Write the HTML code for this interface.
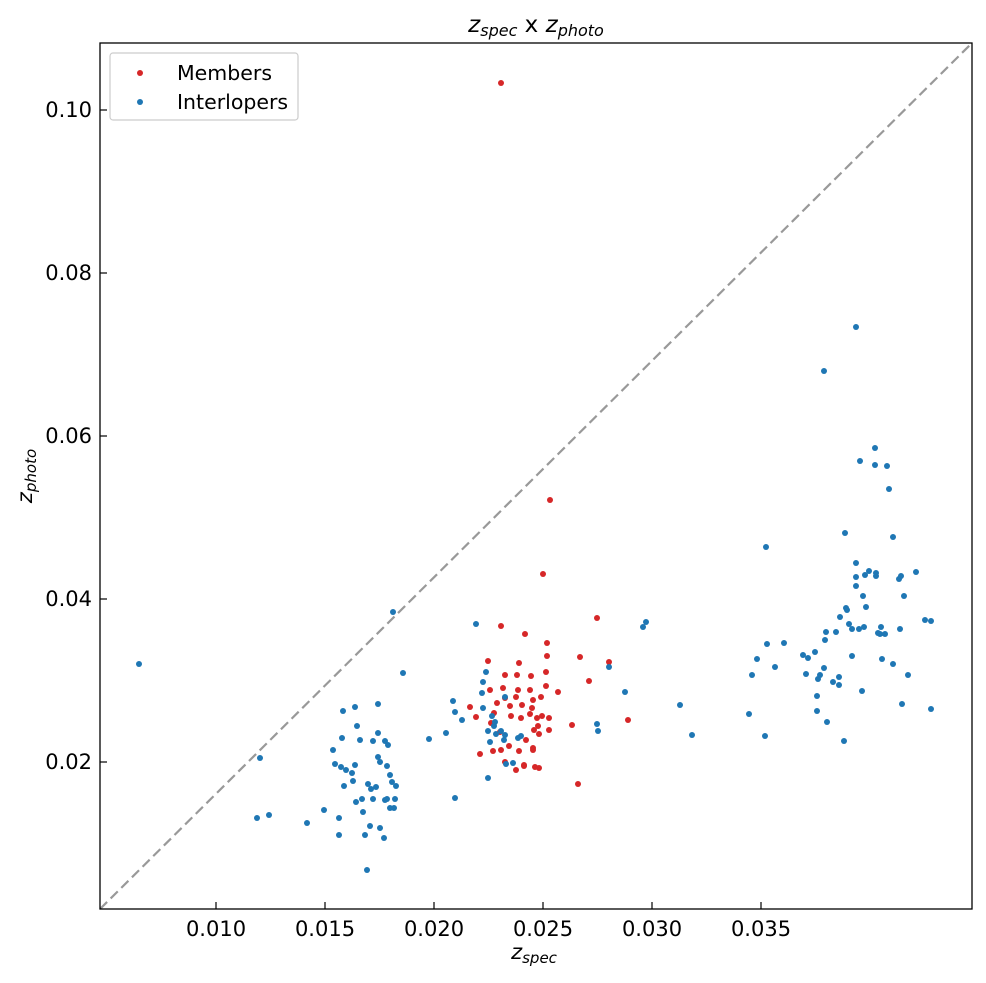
<!DOCTYPE html>
<html><head><meta charset="utf-8"><style>body{margin:0;background:#fff}svg{display:block}</style></head>
<body>
<svg width="986" height="983" xmlns="http://www.w3.org/2000/svg" font-family="'DejaVu Sans','Liberation Sans',sans-serif">
<rect width="986" height="983" fill="#fff"/>
<line x1="100" y1="909" x2="972" y2="43" stroke="#999" stroke-width="2.2" stroke-dasharray="10,5"/>
<g fill="#d62728">
<circle cx="501" cy="83" r="3"/><circle cx="550" cy="500" r="3"/><circle cx="543" cy="574" r="3"/><circle cx="597" cy="618" r="3"/><circle cx="501" cy="626" r="3"/><circle cx="488" cy="661" r="3"/><circle cx="525" cy="634" r="3"/><circle cx="547" cy="643" r="3"/><circle cx="547" cy="656" r="3"/><circle cx="580" cy="657" r="3"/><circle cx="609" cy="662" r="3"/><circle cx="546" cy="672" r="3"/><circle cx="517" cy="675" r="3"/><circle cx="531" cy="676" r="3"/><circle cx="505" cy="675" r="3"/><circle cx="519" cy="663" r="3"/><circle cx="490" cy="690" r="3"/><circle cx="503" cy="688" r="3"/><circle cx="518" cy="690" r="3"/><circle cx="530" cy="690" r="3"/><circle cx="546" cy="686" r="3"/><circle cx="558" cy="692" r="3"/><circle cx="505" cy="698" r="3"/><circle cx="516" cy="697" r="3"/><circle cx="533" cy="700" r="3"/><circle cx="541" cy="697" r="3"/><circle cx="497" cy="703" r="3"/><circle cx="510" cy="706" r="3"/><circle cx="522" cy="705" r="3"/><circle cx="532" cy="708" r="3"/><circle cx="530" cy="714" r="3"/><circle cx="537" cy="718" r="3"/><circle cx="542" cy="716" r="3"/><circle cx="549" cy="718" r="3"/><circle cx="511" cy="716" r="3"/><circle cx="521" cy="718" r="3"/><circle cx="494" cy="713" r="3"/><circle cx="538" cy="726" r="3"/><circle cx="534" cy="730" r="3"/><circle cx="549" cy="730" r="3"/><circle cx="589" cy="681" r="3"/><circle cx="572" cy="725" r="3"/><circle cx="628" cy="720" r="3"/><circle cx="526" cy="740" r="3"/><circle cx="539" cy="734" r="3"/><circle cx="500" cy="732" r="3"/><circle cx="493" cy="751" r="3"/><circle cx="501" cy="750" r="3"/><circle cx="509" cy="746" r="3"/><circle cx="519" cy="751" r="3"/><circle cx="533" cy="748" r="3"/><circle cx="480" cy="754" r="3"/><circle cx="505" cy="762" r="3"/><circle cx="516" cy="770" r="3"/><circle cx="524" cy="766" r="3"/><circle cx="539" cy="768" r="3"/><circle cx="533" cy="750" r="3"/><circle cx="524" cy="765" r="3"/><circle cx="578" cy="784" r="3"/><circle cx="470" cy="707" r="3"/><circle cx="476" cy="717" r="3"/><circle cx="491" cy="723" r="3"/><circle cx="535" cy="767" r="3"/>
</g>
<g fill="#1f77b4">
<circle cx="856" cy="327" r="3"/><circle cx="139" cy="664" r="3"/><circle cx="260" cy="758" r="3"/><circle cx="269" cy="815" r="3"/><circle cx="257" cy="818" r="3"/><circle cx="307" cy="823" r="3"/><circle cx="324" cy="810" r="3"/><circle cx="339" cy="835" r="3"/><circle cx="339" cy="818" r="3"/><circle cx="343" cy="711" r="3"/><circle cx="342" cy="738" r="3"/><circle cx="333" cy="750" r="3"/><circle cx="335" cy="764" r="3"/><circle cx="341" cy="767" r="3"/><circle cx="346" cy="770" r="3"/><circle cx="352" cy="773" r="3"/><circle cx="344" cy="786" r="3"/><circle cx="353" cy="781" r="3"/><circle cx="355" cy="765" r="3"/><circle cx="356" cy="802" r="3"/><circle cx="362" cy="799" r="3"/><circle cx="368" cy="784" r="3"/><circle cx="357" cy="726" r="3"/><circle cx="360" cy="740" r="3"/><circle cx="355" cy="707" r="3"/><circle cx="363" cy="812" r="3"/><circle cx="365" cy="835" r="3"/><circle cx="370" cy="826" r="3"/><circle cx="367" cy="870" r="3"/><circle cx="371" cy="789" r="3"/><circle cx="373" cy="799" r="3"/><circle cx="373" cy="741" r="3"/><circle cx="378" cy="704" r="3"/><circle cx="378" cy="733" r="3"/><circle cx="380" cy="762" r="3"/><circle cx="376" cy="787" r="3"/><circle cx="385" cy="800" r="3"/><circle cx="384" cy="838" r="3"/><circle cx="387" cy="766" r="3"/><circle cx="385" cy="741" r="3"/><circle cx="388" cy="745" r="3"/><circle cx="387" cy="799" r="3"/><circle cx="390" cy="775" r="3"/><circle cx="390" cy="808" r="3"/><circle cx="392" cy="782" r="3"/><circle cx="394" cy="808" r="3"/><circle cx="396" cy="786" r="3"/><circle cx="395" cy="799" r="3"/><circle cx="380" cy="828" r="3"/><circle cx="378" cy="757" r="3"/><circle cx="393" cy="612" r="3"/><circle cx="403" cy="673" r="3"/><circle cx="429" cy="739" r="3"/><circle cx="446" cy="733" r="3"/><circle cx="453" cy="701" r="3"/><circle cx="455" cy="712" r="3"/><circle cx="455" cy="798" r="3"/><circle cx="462" cy="720" r="3"/><circle cx="476" cy="624" r="3"/><circle cx="482" cy="693" r="3"/><circle cx="483" cy="682" r="3"/><circle cx="486" cy="672" r="3"/><circle cx="483" cy="708" r="3"/><circle cx="488" cy="731" r="3"/><circle cx="488" cy="778" r="3"/><circle cx="490" cy="742" r="3"/><circle cx="492" cy="716" r="3"/><circle cx="494" cy="726" r="3"/><circle cx="496" cy="734" r="3"/><circle cx="495" cy="722" r="3"/><circle cx="501" cy="731" r="3"/><circle cx="504" cy="740" r="3"/><circle cx="505" cy="697" r="3"/><circle cx="506" cy="764" r="3"/><circle cx="505" cy="735" r="3"/><circle cx="513" cy="763" r="3"/><circle cx="518" cy="738" r="3"/><circle cx="521" cy="736" r="3"/><circle cx="597" cy="724" r="3"/><circle cx="598" cy="731" r="3"/><circle cx="609" cy="667" r="3"/><circle cx="625" cy="692" r="3"/><circle cx="643" cy="627" r="3"/><circle cx="646" cy="622" r="3"/><circle cx="680" cy="705" r="3"/><circle cx="692" cy="735" r="3"/><circle cx="749" cy="714" r="3"/><circle cx="752" cy="675" r="3"/><circle cx="757" cy="659" r="3"/><circle cx="765" cy="736" r="3"/><circle cx="766" cy="547" r="3"/><circle cx="767" cy="644" r="3"/><circle cx="775" cy="667" r="3"/><circle cx="784" cy="643" r="3"/><circle cx="803" cy="655" r="3"/><circle cx="806" cy="674" r="3"/><circle cx="808" cy="658" r="3"/><circle cx="815" cy="652" r="3"/><circle cx="817" cy="711" r="3"/><circle cx="817" cy="696" r="3"/><circle cx="818" cy="679" r="3"/><circle cx="820" cy="675" r="3"/><circle cx="824" cy="371" r="3"/><circle cx="824" cy="668" r="3"/><circle cx="825" cy="640" r="3"/><circle cx="826" cy="632" r="3"/><circle cx="827" cy="722" r="3"/><circle cx="833" cy="682" r="3"/><circle cx="836" cy="632" r="3"/><circle cx="839" cy="685" r="3"/><circle cx="839" cy="677" r="3"/><circle cx="840" cy="617" r="3"/><circle cx="844" cy="741" r="3"/><circle cx="845" cy="533" r="3"/><circle cx="846" cy="608" r="3"/><circle cx="847" cy="610" r="3"/><circle cx="849" cy="624" r="3"/><circle cx="852" cy="656" r="3"/><circle cx="852" cy="629" r="3"/><circle cx="856" cy="586" r="3"/><circle cx="856" cy="577" r="3"/><circle cx="856" cy="563" r="3"/><circle cx="859" cy="629" r="3"/><circle cx="862" cy="691" r="3"/><circle cx="860" cy="461" r="3"/><circle cx="864" cy="627" r="3"/><circle cx="866" cy="607" r="3"/><circle cx="869" cy="571" r="3"/><circle cx="875" cy="465" r="3"/><circle cx="875" cy="448" r="3"/><circle cx="876" cy="576" r="3"/><circle cx="876" cy="573" r="3"/><circle cx="878" cy="633" r="3"/><circle cx="880" cy="634" r="3"/><circle cx="881" cy="627" r="3"/><circle cx="882" cy="659" r="3"/><circle cx="885" cy="634" r="3"/><circle cx="887" cy="466" r="3"/><circle cx="889" cy="489" r="3"/><circle cx="893" cy="537" r="3"/><circle cx="899" cy="579" r="3"/><circle cx="900" cy="629" r="3"/><circle cx="901" cy="576" r="3"/><circle cx="902" cy="704" r="3"/><circle cx="904" cy="596" r="3"/><circle cx="908" cy="675" r="3"/><circle cx="916" cy="572" r="3"/><circle cx="925" cy="620" r="3"/><circle cx="931" cy="621" r="3"/><circle cx="931" cy="709" r="3"/><circle cx="865" cy="575" r="3"/><circle cx="863" cy="596" r="3"/><circle cx="893" cy="664" r="3"/>
</g>
<rect x="100" y="43" width="872" height="866" fill="none" stroke="#000" stroke-width="1.3"/>
<g stroke="#000" stroke-width="1.2">
<line x1="216" y1="909" x2="216" y2="902"/><line x1="325" y1="909" x2="325" y2="902"/><line x1="434" y1="909" x2="434" y2="902"/><line x1="543" y1="909" x2="543" y2="902"/><line x1="652" y1="909" x2="652" y2="902"/><line x1="761" y1="909" x2="761" y2="902"/>
<line x1="100" y1="110" x2="107" y2="110"/><line x1="100" y1="273" x2="107" y2="273"/><line x1="100" y1="436" x2="107" y2="436"/><line x1="100" y1="599" x2="107" y2="599"/><line x1="100" y1="762" x2="107" y2="762"/>
</g>
<g font-size="21" text-anchor="middle" fill="#000">
<text x="216" y="936">0.010</text><text x="325" y="936">0.015</text><text x="434" y="936">0.020</text><text x="543" y="936">0.025</text><text x="652" y="936">0.030</text><text x="761" y="936">0.035</text>
</g>
<g font-size="21" text-anchor="end" fill="#000">
<text x="92" y="117">0.10</text><text x="92" y="280">0.08</text><text x="92" y="443">0.06</text><text x="92" y="606">0.04</text><text x="92" y="769">0.02</text>
</g>
<text x="536" y="32" font-size="23" text-anchor="middle"><tspan font-style="italic">z</tspan><tspan font-size="16" dy="4" font-style="italic">spec</tspan><tspan dy="-4"> x </tspan><tspan font-style="italic">z</tspan><tspan font-size="16" dy="4" font-style="italic">photo</tspan></text>
<text x="534" y="959" font-size="21" text-anchor="middle"><tspan font-style="italic">z</tspan><tspan font-size="15" dy="4" font-style="italic">spec</tspan></text>
<text transform="translate(32,476) rotate(-90)" font-size="21" text-anchor="middle"><tspan font-style="italic">z</tspan><tspan font-size="15" dy="4" font-style="italic">photo</tspan></text>
<rect x="110" y="53" width="188" height="67" rx="3" fill="#fff" stroke="#ccc" stroke-width="1.2"/>
<circle cx="140" cy="73" r="3" fill="#d62728"/><circle cx="140" cy="102" r="3" fill="#1f77b4"/>
<text x="177" y="80" font-size="20.5">Members</text><text x="177" y="109" font-size="20.5">Interlopers</text>
</svg>
</body></html>
